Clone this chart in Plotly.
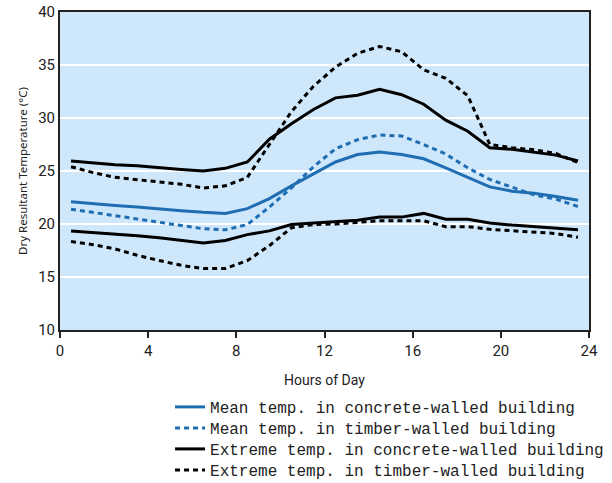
import plotly.graph_objects as go

hours = [h + 0.5 for h in range(24)]

mean_concrete = [22.1, 21.9, 21.75, 21.6, 21.4, 21.25, 21.1, 21.0, 21.45, 22.4, 23.6, 24.75,
                 25.85, 26.55, 26.8, 26.55, 26.15, 25.3, 24.4, 23.5, 23.1, 22.9, 22.6, 22.25]
mean_timber = [21.4, 21.1, 20.8, 20.5, 20.2, 19.85, 19.55, 19.45, 19.95, 21.6, 23.4, 25.4,
               27.1, 27.95, 28.4, 28.3, 27.5, 26.6, 25.3, 24.2, 23.45, 22.75, 22.35, 21.65]
ext_concrete_max = [25.95, 25.75, 25.6, 25.5, 25.3, 25.15, 25.0, 25.25, 25.85, 28.0, 29.45, 30.8,
                    31.9, 32.15, 32.7, 32.2, 31.3, 29.8, 28.75, 27.2, 27.05, 26.8, 26.5, 25.95]
ext_concrete_min = [19.35, 19.2, 19.1, 18.9, 18.7, 18.45, 18.2, 18.45, 19.0, 19.35, 19.95, 20.1,
                    20.2, 20.35, 20.65, 20.65, 21.0, 20.45, 20.45, 20.1, 19.9, 19.75, 19.6, 19.45]
ext_timber_max = [25.4, 24.85, 24.4, 24.2, 23.95, 23.75, 23.4, 23.6, 24.4, 27.5, 30.6, 33.0,
                  34.8, 36.1, 36.75, 36.25, 34.55, 33.75, 32.1, 27.5, 27.2, 27.0, 26.65, 25.8]
ext_timber_min = [18.35, 18.05, 17.65, 17.05, 16.55, 16.1, 15.8, 15.8, 16.55, 17.95, 19.65, 19.95,
                  20.0, 20.15, 20.3, 20.3, 20.3, 19.75, 19.75, 19.5, 19.35, 19.25, 19.1, 18.75]

labels = ["Mean temp. in concrete-walled building",
          "Mean temp. in timber-walled building",
          "Extreme temp. in concrete-walled building",
          "Extreme temp. in timber-walled building"]
x_ticks = [0, 4, 8, 12, 16, 20, 24]
y_ticks = [10, 15, 20, 25, 30, 35, 40]

BLUE = "#1f6db3"
BLACK = "#000000"
DOT = "5px,4px"

fig = go.Figure()
fig.add_trace(go.Scatter(x=hours, y=mean_concrete, mode="lines", name=labels[0], legend="legend",
                         line=dict(color=BLUE, width=3)))
fig.add_trace(go.Scatter(x=hours, y=mean_timber, mode="lines", name=labels[1], legend="legend2",
                         line=dict(color=BLUE, width=3, dash=DOT)))
fig.add_trace(go.Scatter(x=hours, y=ext_concrete_max, mode="lines", name=labels[2], legend="legend3",
                         legendgroup="ec", line=dict(color=BLACK, width=3)))
fig.add_trace(go.Scatter(x=hours, y=ext_concrete_min, mode="lines", name=labels[2], legend="legend3",
                         legendgroup="ec", showlegend=False, line=dict(color=BLACK, width=3)))
fig.add_trace(go.Scatter(x=hours, y=ext_timber_max, mode="lines", name=labels[3], legend="legend4",
                         legendgroup="et", line=dict(color=BLACK, width=3, dash=DOT)))
fig.add_trace(go.Scatter(x=hours, y=ext_timber_min, mode="lines", name=labels[3], legend="legend4",
                         legendgroup="et", showlegend=False, line=dict(color=BLACK, width=3, dash=DOT)))

leg_font = dict(family="Liberation Mono, Courier New, monospace", size=16, color="#222")
row_px = [407, 428, 449, 470]


def leg(row):
    return dict(x=0.208, y=(330 - row) / 318, xanchor="left", yanchor="middle",
                font=leg_font, bgcolor="rgba(0,0,0,0)", itemwidth=30)


fig.update_layout(
    width=612, height=483,
    margin=dict(l=60, r=23, t=12, b=153, autoexpand=False),
    paper_bgcolor="white",
    plot_bgcolor="#cfe7fa",
    showlegend=True,
    legend=leg(row_px[0]),
    legend2=leg(row_px[1]),
    legend3=leg(row_px[2]),
    legend4=leg(row_px[3]),
    font=dict(family="Noto Sans, Arial, sans-serif", color="#222"),
)
fig.update_xaxes(
    range=[0, 24], tickvals=x_ticks, ticktext=[str(v) for v in x_ticks],
    showgrid=False, zeroline=False, automargin=False, ticklabeloverflow="allow",
    showline=True, linecolor="#222", linewidth=2, mirror=True,
    ticks="outside", ticklen=6, tickwidth=1.5, tickcolor="#222",
    tickfont=dict(family="Roboto, sans-serif", size=15),
    title=dict(text="Hours of Day", font=dict(family="Roboto, sans-serif", size=14),
               standoff=16),
)
fig.update_yaxes(
    range=[10, 40], tickvals=y_ticks, ticktext=[str(v) for v in y_ticks],
    showgrid=True, gridcolor="white", gridwidth=2, zeroline=False, automargin=False,
    ticklabeloverflow="allow",
    showline=True, linecolor="#222", linewidth=2, mirror=True,
    ticks="", tickfont=dict(family="Roboto, sans-serif", size=15),
    title=dict(text="Dry Resultant Temperature (°C)", font=dict(family="Noto Sans, sans-serif", size=11.5),
               standoff=8),
)

fig.write_html("out.html", config={"displayModeBar": False},
               post_script="document.body.style.margin='0';")
